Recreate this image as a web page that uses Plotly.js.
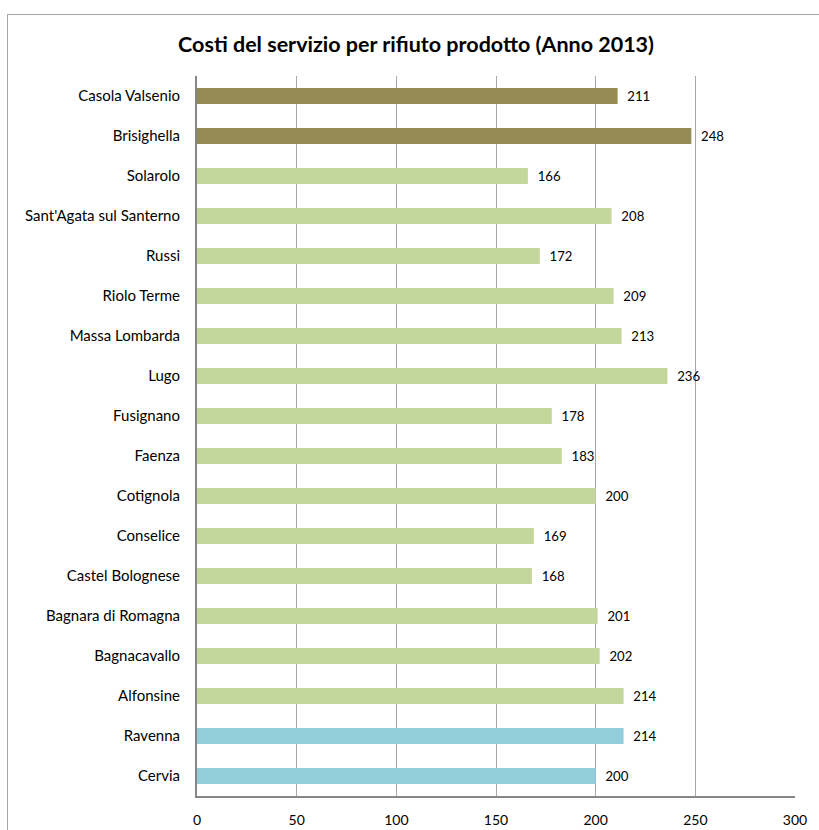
<!DOCTYPE html>
<html><head><meta charset="utf-8">
<script src="https://cdn.plot.ly/plotly-3.0.1.min.js"></script>
<style>
html,body{margin:0;padding:0;overflow:hidden;background:#fff;}
#wrap{position:relative;width:819px;height:830px;overflow:hidden;}
#frame{position:absolute;left:7px;top:14px;width:840px;height:850px;border:1px solid #a6a6a6;pointer-events:none;}
#chart{position:absolute;left:0;top:0;width:819px;height:830px;}
</style></head>
<body><div id="wrap"><div id="chart"></div><div id="frame"></div></div>
<script>
const categories = ["Cervia","Ravenna","Alfonsine","Bagnacavallo","Bagnara di Romagna","Castel Bolognese","Conselice","Cotignola","Faenza","Fusignano","Lugo","Massa Lombarda","Riolo Terme","Russi","Sant'Agata sul Santerno","Solarolo","Brisighella","Casola Valsenio"];
const values = [200,214,214,202,201,168,169,200,183,178,236,213,209,172,208,166,248,211];
const groups = ["blue","blue","green","green","green","green","green","green","green","green","green","green","green","green","green","green","olive","olive"];
const palette = {blue:"#92CDDC", green:"#C3D69B", olive:"#948A54"};
const xTicks = [0,50,100,150,200,250,300];

const trace = {
  type:"bar", orientation:"h",
  y:categories, x:values,
  marker:{color:groups.map(g=>palette[g])},
  text:values.map(v=>"\u00A0\u00A0"+v), textposition:"outside", cliponaxis:false,
  textfont:{family:"Lato, 'Open Sans', sans-serif", size:14, color:"#000"},
  hoverinfo:"none"
};
const layout = {
  width:819, height:830,
  margin:{l:197, r:24, t:76, b:34},
  paper_bgcolor:"rgba(0,0,0,0)", plot_bgcolor:"#fff",
  showlegend:false, bargap:0.6,
  font:{family:"Lato, 'Open Sans', sans-serif", size:14, color:"#000"},
  title:{text:"<b>Costi del servizio per rifiuto prodotto (Anno 2013)</b>", x:0.508, xanchor:"center", y:0.946, yanchor:"middle",
         font:{family:"Lato, 'Open Sans', sans-serif", size:21.5, color:"#000"}},
  xaxis:{range:[0,300], tickvals:xTicks, ticktext:xTicks.map(String), showgrid:true, gridcolor:"#a6a6a6", gridwidth:1,
         zeroline:false, showline:true, linecolor:"#868686", linewidth:2, ticks:"", ticklen:0, ticklabelstandoff:10,
         tickfont:{size:14}, fixedrange:true},
  yaxis:{type:"category", showgrid:false, zeroline:false, showline:true, linecolor:"#868686", linewidth:2,
         ticks:"", ticklabelstandoff:12, tickfont:{size:15}, automargin:false, fixedrange:true}
};
Plotly.newPlot("chart",[trace],layout,{staticPlot:true});
</script></body></html>
